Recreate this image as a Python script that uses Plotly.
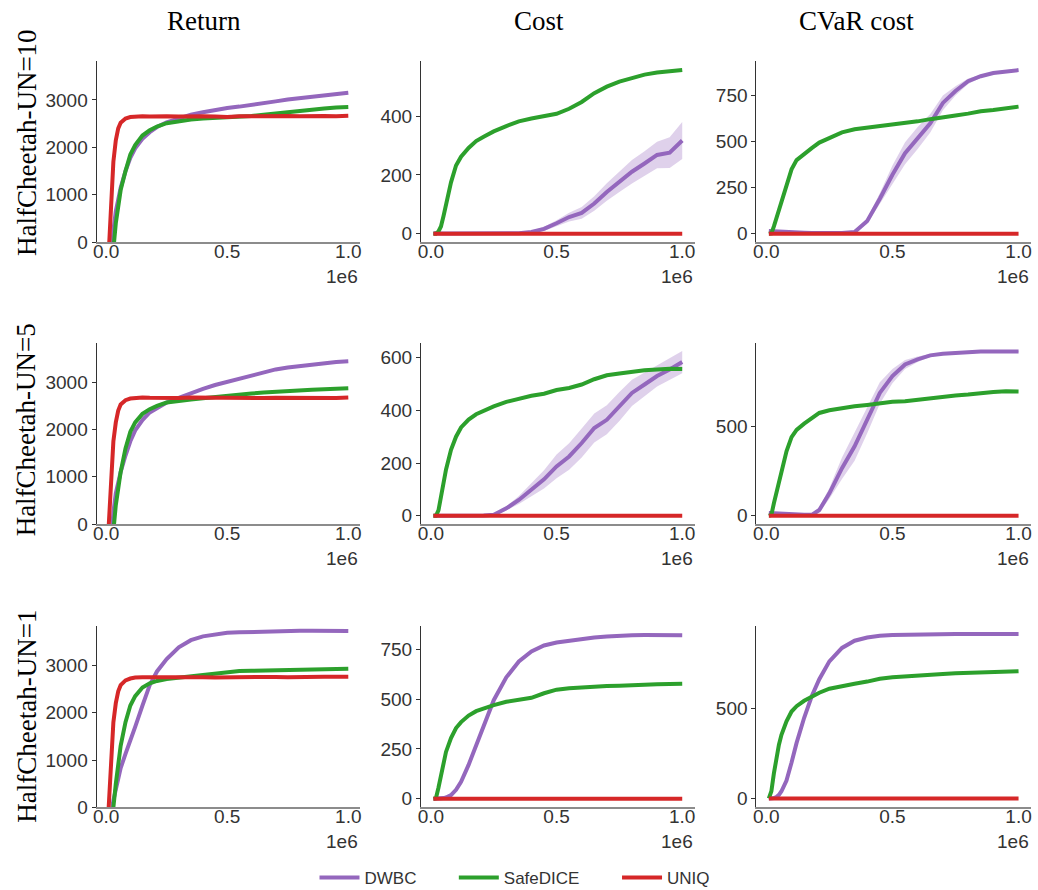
import plotly.graph_objects as go
from plotly.subplots import make_subplots

# ---------------- data ----------------
STEPS = [10000, 20000, 30000, 40000, 50000, 60000, 80000, 100000, 120000, 150000,
         180000, 210000, 250000, 300000, 350000, 400000, 450000, 500000, 550000,
         600000, 650000, 700000, 750000, 800000, 850000, 900000, 950000, 1000000]

COL_TITLES = ["Return", "Cost", "CVaR cost"]
ROW_TITLES = ["HalfCheetah-UN=10", "HalfCheetah-UN=5", "HalfCheetah-UN=1"]
METHODS = ["DWBC", "SafeDICE", "UNIQ"]

# Row 1 : UN=10
R1_DWBC = [-1200, -300, 250, 650, 950, 1150, 1500, 1780, 1980, 2180, 2320, 2430, 2530, 2620,
           2690, 2740, 2790, 2830, 2860, 2890, 2920, 2970, 3010, 3040, 3070, 3100, 3120, 3150]
R1_SAFEDICE = [-1800, -900, -150, 400, 800, 1100, 1500, 1850, 2050, 2250, 2360, 2440, 2510, 2560,
               2590, 2610, 2620, 2640, 2650, 2660, 2690, 2720, 2750, 2780, 2800, 2820, 2840, 2850]
R1_UNIQ = [-300, 950, 1700, 2150, 2400, 2520, 2610, 2640, 2650, 2655, 2650, 2660, 2655, 2650,
           2660, 2655, 2650, 2640, 2655, 2660, 2665, 2650, 2660, 2655, 2665, 2660, 2655, 2665]
C1_DWBC = [2, 1, 1, 1, 1, 1, 1, 1, 1, 1, 1, 1, 1, 1,
           2, 6, 17, 36, 57, 71, 103, 142, 177, 211, 239, 268, 276, 317]
C1_DWBC_SPREAD = [1, 1, 1, 1, 1, 1, 1, 1, 1, 1, 1, 1, 1, 1,
                  2, 4, 7, 10, 15, 20, 25, 30, 35, 40, 42, 45, 52, 63]
C1_SAFEDICE = [0, 0, 8, 25, 60, 100, 175, 232, 262, 292, 315, 330, 348, 366,
               382, 392, 400, 408, 425, 448, 478, 500, 517, 530, 541, 548, 552, 557]
C1_UNIQ = [0] * 28
V1_DWBC = [15, 14, 13, 12, 11, 10, 9, 8, 7, 6, 5, 4, 3, 4,
           10, 70, 190, 320, 437, 520, 600, 710, 775, 828, 855, 872, 882, 888]
V1_DWBC_SPREAD = [3, 3, 3, 3, 3, 3, 3, 3, 3, 3, 3, 3, 3, 3,
                  5, 15, 30, 50, 60, 60, 50, 40, 25, 15, 8, 5, 4, 3]
V1_SAFEDICE = [0, 2, 40, 85, 125, 170, 260, 350, 400, 435, 465, 495, 520, 550,
               567, 575, 583, 592, 603, 610, 622, 630, 642, 652, 665, 672, 680, 690]
V1_UNIQ = [0] * 28

# Row 2 : UN=5
R2_DWBC = [-1200, -300, 250, 650, 900, 1100, 1450, 1750, 1980, 2200, 2360, 2460, 2570, 2670,
           2770, 2860, 2940, 3010, 3080, 3150, 3200, 3270, 3310, 3340, 3375, 3400, 3425, 3440]
R2_SAFEDICE = [-1600, -800, -150, 400, 800, 1100, 1600, 1950, 2150, 2330, 2430, 2500, 2570, 2610,
               2635, 2660, 2690, 2710, 2730, 2760, 2780, 2800, 2810, 2830, 2840, 2850, 2865, 2870]
R2_UNIQ = [-100, 1050, 1750, 2150, 2400, 2530, 2620, 2655, 2670, 2675, 2670, 2665, 2672, 2668,
           2675, 2670, 2665, 2672, 2668, 2660, 2665, 2672, 2668, 2665, 2670, 2668, 2665, 2675]
C2_DWBC = [0, 0, 0, 0, 0, 0, 0, 0, 0, 0, 0, 1, 4, 28,
           60, 98, 138, 187, 225, 276, 333, 364, 415, 466, 498, 530, 555, 583]
C2_DWBC_SPREAD = [1, 1, 1, 1, 1, 1, 1, 1, 1, 1, 1, 2, 4, 8,
                  15, 25, 35, 45, 50, 55, 55, 55, 55, 50, 45, 40, 40, 42]
C2_SAFEDICE = [0, 0, 20, 70, 125, 175, 250, 300, 335, 365, 385, 398, 415, 432,
               445, 455, 463, 477, 485, 498, 518, 533, 540, 547, 552, 555, 558, 557]
C2_UNIQ = [0] * 28
V2_DWBC = [15, 14, 13, 12, 11, 10, 9, 8, 7, 6, 5, 32, 125, 266,
           388, 537, 687, 781, 846, 875, 897, 906, 911, 916, 918, 919, 919, 919]
V2_DWBC_SPREAD = [3, 3, 3, 3, 3, 3, 3, 3, 3, 3, 5, 15, 30, 60,
                  80, 75, 60, 40, 25, 15, 8, 5, 4, 3, 3, 3, 3, 3]
V2_SAFEDICE = [0, 5, 70, 130, 185, 240, 360, 440, 480, 515, 545, 575, 590, 603,
               612, 620, 630, 638, 640, 648, 660, 668, 673, 678, 686, 692, 696, 695]
V2_UNIQ = [0] * 28

# Row 3 : UN=1
R3_DWBC = [-800, -200, 150, 400, 620, 830, 1130, 1400, 1700, 2150, 2580, 2870, 3130, 3380,
           3530, 3610, 3655, 3685, 3695, 3705, 3710, 3720, 3725, 3730, 3730, 3732, 3728, 3725]
R3_SAFEDICE = [-1500, -700, 0, 500, 950, 1300, 1800, 2150, 2350, 2530, 2620, 2670, 2710, 2740,
               2780, 2810, 2840, 2870, 2880, 2885, 2890, 2900, 2905, 2915, 2910, 2920, 2925, 2925]
R3_UNIQ = [-50, 1100, 1800, 2200, 2450, 2580, 2680, 2720, 2740, 2745, 2748, 2742, 2745, 2740,
           2745, 2750, 2742, 2748, 2745, 2752, 2748, 2755, 2750, 2758, 2755, 2760, 2758, 2760]
C3_DWBC = [0, 0, 0, 1, 3, 6, 18, 45, 85, 170, 270, 370, 495, 610,
           690, 740, 770, 785, 795, 803, 810, 815, 820, 822, 823, 824, 824, 822]
C3_SAFEDICE = [0, 2, 55, 120, 180, 235, 305, 355, 385, 418, 440, 455, 470, 487,
               495, 507, 530, 548, 555, 560, 562, 566, 568, 572, 573, 575, 577, 578]
C3_UNIQ = [0] * 28
V3_DWBC = [0, 0, 2, 8, 20, 40, 100, 200, 310, 450, 570, 665, 765, 840,
           880, 898, 908, 912, 914, 916, 917, 917, 918, 918, 918, 917, 917, 917]
V3_SAFEDICE = [0, 40, 140, 230, 300, 355, 430, 485, 515, 545, 570, 590, 612, 628,
               640, 652, 668, 676, 682, 686, 690, 695, 698, 701, 704, 706, 708, 710]
V3_UNIQ = [0] * 28

X_TICKS = [0, 500000, 1000000]
X_TICK_LABELS = ["0.0", "0.5", "1.0"]
Y_TICKS = [
    [[0, 1000, 2000, 3000], [0, 200, 400], [0, 250, 500, 750]],
    [[0, 1000, 2000, 3000], [0, 200, 400, 600], [0, 500]],
    [[0, 1000, 2000, 3000], [0, 250, 500, 750], [0, 500]],
]
Y_RANGES = [
    [[0, 3820], [-28.7, 587], [-45.8, 937]],
    [[0, 3820], [-31.6, 654], [-46.6, 964]],
    [[0, 3825], [-43.8, 867], [-50, 961]],
]

PANELS = [
    [(R1_DWBC, None, R1_SAFEDICE, R1_UNIQ), (C1_DWBC, C1_DWBC_SPREAD, C1_SAFEDICE, C1_UNIQ),
     (V1_DWBC, V1_DWBC_SPREAD, V1_SAFEDICE, V1_UNIQ)],
    [(R2_DWBC, None, R2_SAFEDICE, R2_UNIQ), (C2_DWBC, C2_DWBC_SPREAD, C2_SAFEDICE, C2_UNIQ),
     (V2_DWBC, V2_DWBC_SPREAD, V2_SAFEDICE, V2_UNIQ)],
    [(R3_DWBC, None, R3_SAFEDICE, R3_UNIQ), (C3_DWBC, None, C3_SAFEDICE, C3_UNIQ),
     (V3_DWBC, None, V3_SAFEDICE, V3_UNIQ)],
]

# ---------------- styling ----------------
# The captured picture comes out ~1.3 % shorter than the page, so the page is laid out
# slightly taller (K) to land every element at the target picture pixel.
K = 902 / 890
W, H = 1038, 902
COLORS = {"DWBC": "#9467bd", "SafeDICE": "#2ca02c", "UNIQ": "#d62728"}
FILLS = {"DWBC": "rgba(148,103,189,0.3)", "SafeDICE": "rgba(44,160,44,0.3)"}
COL_PX = [(93, 358), (419, 694), (756, 1032)]          # target picture pixels
ROW_PX = [(61, 242), (343, 523.5), (625.5, 806.5)]     # target picture pixels
TITLE_X = [201, 538, 857]
TITLE_Y = 21
ROW_LABEL_X = 23
ROW_LABEL_Y = [142, 429, 715]
LEGEND_LINE_X = [319, 459, 623]
LEGEND_Y = 877
LEGEND_IDS = ["legend", "legend2", "legend3"]
SERIF = "Liberation Serif, Times New Roman, serif"
SANS = "Liberation Sans, Arial, sans-serif"


def px_x(p):
    return p / W


def px_y(p):
    return 1 - (p * K) / H


fig = make_subplots(rows=3, cols=3)

for r in range(3):
    for c in range(3):
        dwbc, spread, safe, uniq = PANELS[r][c]
        if spread is not None:
            upper = [m + s for m, s in zip(dwbc, spread)]
            lower = [m - s for m, s in zip(dwbc, spread)]
            fig.add_trace(go.Scatter(x=STEPS + STEPS[::-1], y=upper + lower[::-1],
                                     fill="toself", fillcolor=FILLS["DWBC"],
                                     line=dict(width=0), mode="lines", hoverinfo="skip",
                                     showlegend=False), row=r + 1, col=c + 1)
        for k, (name, ys) in enumerate(zip(METHODS, (dwbc, safe, uniq))):
            fig.add_trace(go.Scatter(x=STEPS, y=ys, mode="lines", name=name,
                                     line=dict(color=COLORS[name], width=4),
                                     showlegend=(r == 0 and c == 0), legendgroup=name,
                                     legend=LEGEND_IDS[k]),
                          row=r + 1, col=c + 1)

annotations = []
for r in range(3):
    for c in range(3):
        idx = r * 3 + c + 1
        xa = "xaxis" if idx == 1 else f"xaxis{idx}"
        ya = "yaxis" if idx == 1 else f"yaxis{idx}"
        x0, x1 = COL_PX[c]
        y0, y1 = ROW_PX[r]
        fig.layout[xa].update(
            domain=[px_x(x0), px_x(x1)], range=[-39500, 1049500],
            tickvals=X_TICKS, ticktext=X_TICK_LABELS, showgrid=False, zeroline=False,
            showline=True, linecolor="#8c8c8c", linewidth=2, ticks="",
            ticklabelstandoff=-9,
            tickfont=dict(family=SANS, size=19, color="#333333"))
        fig.layout[ya].update(
            domain=[px_y(y1), px_y(y0)], range=Y_RANGES[r][c],
            tickvals=Y_TICKS[r][c], showgrid=False, zeroline=False,
            showline=True, linecolor="#333333", linewidth=1,
            ticks="outside", ticklen=4, tickwidth=1, tickcolor="#333333",
            tickfont=dict(family=SANS, size=19, color="#333333"))
        xref = "x domain" if idx == 1 else f"x{idx} domain"
        yref = "y domain" if idx == 1 else f"y{idx} domain"
        annotations.append(dict(text="1e6", x=1, y=-34 / (y1 - y0), xref=xref, yref=yref,
                                xanchor="right", yanchor="middle", showarrow=False,
                                font=dict(family=SANS, size=19, color="#333333")))

for c, t in enumerate(COL_TITLES):
    annotations.append(dict(text=t, x=px_x(TITLE_X[c]), y=px_y(TITLE_Y), xref="paper",
                            yref="paper", xanchor="center", yanchor="middle", showarrow=False,
                            font=dict(family=SERIF, size=27, color="#000000")))
for r, t in enumerate(ROW_TITLES):
    annotations.append(dict(text=t, x=px_x(ROW_LABEL_X), y=px_y(ROW_LABEL_Y[r]), xref="paper",
                            yref="paper", xanchor="center", yanchor="middle", textangle=-90,
                            showarrow=False, font=dict(family=SERIF, size=27, color="#000000")))

legend_style = dict(orientation="h", xanchor="left", yanchor="middle",
                    font=dict(family=SANS, size=17, color="#333333"), itemwidth=40,
                    bgcolor="rgba(0,0,0,0)")
fig.update_layout(
    width=W, height=H, margin=dict(l=0, r=0, t=0, b=0),
    plot_bgcolor="white", paper_bgcolor="white",
    annotations=annotations,
    showlegend=True,
)
for k, lid in enumerate(LEGEND_IDS):
    fig.update_layout({lid: dict(legend_style, x=px_x(LEGEND_LINE_X[k] - 7), y=px_y(LEGEND_Y))})

PAGE_RESET = ("document.documentElement.style.margin='0';document.body.style.margin='0';"
              "document.documentElement.style.overflow='hidden';document.body.style.overflow='hidden';")
fig.write_html("out.html", post_script=PAGE_RESET, config={"displayModeBar": False})
